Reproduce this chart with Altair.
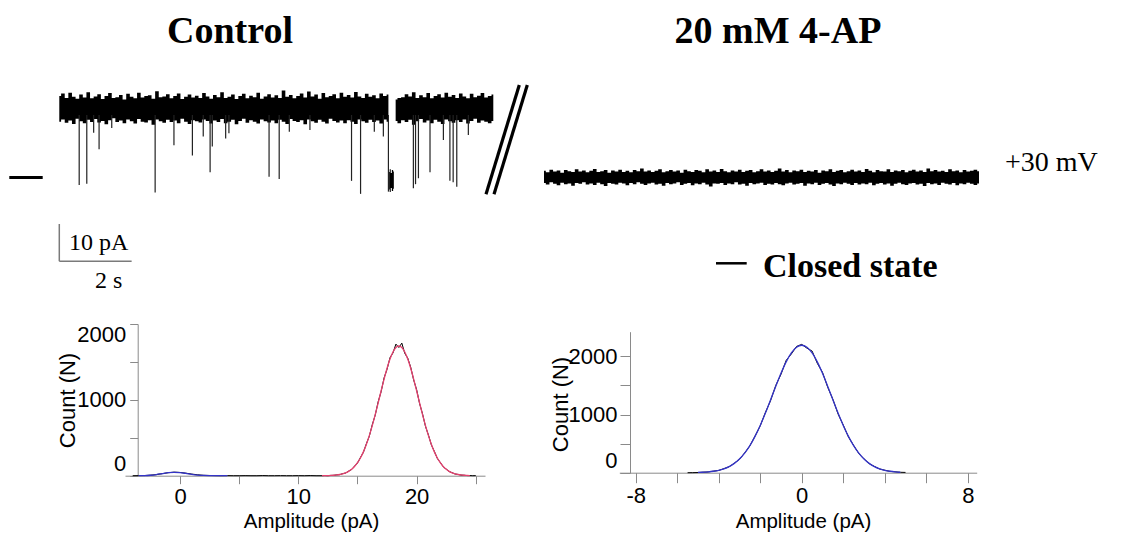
import altair as alt
import numpy as np
import pandas as pd

# ---------------- text ----------------
panel_titles = ["Control", "20 mM 4-AP"]
voltage_label = ["+30 mV"]
closed_label = ["Closed state"]
scale_labels = ["10 pA", "2 s"]
hist_x_title = "Amplitude (pA)"
hist_y_title = "Count (N)"

# ---------------- single-channel traces (pA), envelope every 0.1 s ----------------
TRACE_S = 12.0
ctrl_top = [21.9,22.6,21.4,22.8,21.7,21.2,22.3,21.5,22.9,21.3,
            21.8,22.4,21.1,21.9,22.7,21.4,21.6,22.2,21.0,22.5,
            21.7,21.3,22.8,21.5,21.9,22.1,21.2,23.2,21.6,21.8,
            22.4,21.3,21.9,22.6,21.1,21.7,22.3,21.5,22.0,21.4,
            22.7,21.8,21.2,22.2,21.6,22.9,21.4,21.7,22.3,21.1,
            21.9,22.5,21.3,22.0,21.6,22.8,21.2,21.8,22.4,21.5,
            22.1,21.4,23.4,21.7,22.2,21.3,21.9,22.6,21.5,23.1,
            21.8,22.3,21.2,22.7,21.6,21.9,22.4,21.3,22.8,21.7,
            22.2,21.5,23.0,21.8,21.4,22.5,21.7,22.1,21.3,22.6,
            21.9,22.3,21.5,21.0,21.4,21.6,22.4,21.8,22.9,21.4,
            22.1,21.6,22.7,21.3,21.9,22.4,21.5,22.8,21.7,22.2,
            21.4,22.6,21.8,21.3,22.5,21.6,22.0,22.7,21.5,21.9,
            22.3]
ctrl_bot = [15.0,15.6,14.7,15.3,14.4,15.8,15.1,14.6,15.5,14.9,
            15.7,14.8,15.2,14.3,15.4,15.9,14.9,15.3,14.6,15.6,
            15.1,14.5,15.7,15.0,14.8,15.4,14.2,15.6,15.1,14.7,
            15.5,14.9,15.3,14.6,15.8,15.0,14.4,15.4,15.1,14.8,
            15.6,15.2,14.5,15.3,14.9,15.7,14.6,15.0,15.5,14.3,
            15.2,15.8,14.7,15.4,15.0,14.5,15.6,15.1,14.8,15.3,
            14.6,15.5,15.0,14.4,15.7,15.2,14.9,15.4,14.3,15.6,
            15.1,14.7,15.5,15.0,14.5,15.8,15.2,14.8,15.3,14.6,
            15.4,15.0,14.4,15.6,15.1,14.7,15.5,14.9,15.3,14.5,
            15.6,15.0,14.8,15.2,14.6,15.4,14.9,15.5,14.2,15.1,
            15.7,14.8,15.3,14.6,15.5,15.0,14.4,15.6,15.1,14.7,
            15.4,14.9,15.6,14.5,15.2,15.8,14.7,15.3,15.0,14.6,
            15.2]
# brief closures (s, lowest current reached in pA)
spike_t = [0.55, 0.76, 0.95, 1.10, 1.45, 2.65, 3.17, 3.68, 3.98, 4.17, 4.23, 4.60,
           4.69, 5.80, 6.08, 6.36, 6.93, 8.08, 8.33, 8.71, 8.96, 9.10, 9.79, 9.85,
           9.93, 10.25, 10.62, 10.80, 10.89, 10.99, 11.31]
spike_depth = [-2.0, -1.7, 12.0, 7.6, 13.3, -4.0, 8.7, 5.9, 11.0, 1.4, 8.3, 10.5,
               11.9, 0.2, -0.4, 12.3, 12.8, -0.9, -4.4, 12.3, 11.0, -3.8, -2.9, -1.8,
               -0.2, 1.4, 10.1, -0.9, -1.3, -2.5, 11.4]
# longer closed dwell
dwell_t = [9.12, 9.15, 9.18, 9.21, 9.25]
dwell_top = [1.5, 2.2, 1.2, 2.0, 1.6]
dwell_bot = [-3.2, -3.9, -2.8, -3.6, -3.0]
closed_level = [0.0]

ap_top = [1.8,1.4,2.1,1.6,1.9,1.3,2.0,1.7,1.5,2.2,
          1.6,1.9,1.4,1.8,2.3,1.5,1.7,2.0,1.3,1.9,
          1.6,2.1,1.5,1.8,1.4,2.0,1.7,2.4,1.6,1.9,
          1.5,1.8,2.2,1.4,1.7,2.0,1.6,1.9,1.3,2.1,
          1.7,1.5,2.0,1.8,1.4,2.2,1.6,1.9,1.5,2.3,
          1.7,1.4,1.9,1.6,2.1,1.5,1.8,2.0,1.4,1.7,
          2.2,1.6,1.9,1.5,1.8,2.4,1.6,2.0,1.4,1.9,
          1.7,2.1,1.5,1.8,1.6,2.0,1.3,1.9,1.7,2.2,
          1.5,1.8,2.0,1.4,1.7,2.1,1.6,1.9,1.5,2.3,
          1.8,1.4,2.0,1.7,1.6,2.2,1.5,1.9,1.7,2.0,
          1.4,1.8,2.1,1.6,1.9,1.5,2.4,1.7,2.0,1.6,
          1.8,1.5,2.2,1.7,1.9,1.4,2.0,1.6,1.8,2.1,
          1.7]
ap_bot = [-1.5,-1.9,-1.3,-1.7,-2.1,-1.4,-1.8,-1.6,-2.2,-1.5,
          -1.7,-1.3,-1.9,-1.6,-2.0,-1.4,-1.8,-2.3,-1.5,-1.7,
          -1.9,-1.4,-1.6,-2.1,-1.5,-1.8,-1.3,-1.7,-2.0,-1.6,
          -1.4,-1.9,-1.7,-2.2,-1.5,-1.8,-1.6,-1.3,-2.0,-1.7,
          -1.5,-2.1,-1.6,-1.8,-1.4,-1.9,-2.4,-1.6,-1.7,-1.5,
          -2.0,-1.6,-1.8,-1.3,-1.9,-1.7,-2.2,-1.5,-1.8,-1.6,
          -1.4,-2.0,-1.7,-1.9,-1.5,-1.8,-2.1,-1.6,-1.4,-1.9,
          -1.7,-1.5,-2.2,-1.6,-1.8,-1.4,-2.0,-1.7,-1.5,-1.9,
          -2.3,-1.6,-1.8,-1.4,-1.7,-2.0,-1.5,-1.9,-1.6,-1.8,
          -1.4,-2.1,-1.7,-1.5,-1.9,-1.6,-2.2,-1.7,-1.4,-1.8,
          -2.0,-1.6,-1.5,-1.9,-1.7,-2.3,-1.5,-1.8,-1.6,-2.0,
          -1.4,-1.7,-1.9,-1.5,-2.1,-1.6,-1.8,-1.4,-1.7,-2.0,
          -1.6]

# ---------------- amplitude histograms ----------------
h1_amp_lo = np.arange(-4.0, 12.0, 0.5)
h1_cnt_lo = [0,1,2,7,14,27,39,47,43,33,21,12,5,3,1,0,1,0,0,1,0,0,2,0,0,1,0,0,1,0,2,0]
h1_amp_hi = np.arange(12.0, 25.01, 0.25)
h1_cnt_hi = [0,2,0,4,5,11,14,27,35,60,80,126,166,240,308,420,520,672,798,975,
             1108,1290,1402,1556,1618,1735,1690,1748,1612,1550,1430,1262,1135,952,815,
             650,536,405,320,228,175,118,88,55,40,22,17,8,6,2,2,0,1]
h1_closed_amp = np.arange(-3.5, 4.01, 0.5)
h1_closed_fit = [0.3,1.5,6,15,28,40,45,41,30,17,8,3,1,0.3,0,0]
h1_open_amp = np.arange(12.0, 24.51, 0.25)
h1_open_fit = [1,1,2,3,6,10,16,24,38,57,84,121,171,234,314,412,528,660,806,961,
               1120,1274,1417,1538,1631,1690,1710,1690,1631,1538,1417,1274,1120,961,806,
               660,528,412,314,234,171,121,84,57,38,24,16,10,6,3,2]

h2_amp = np.arange(-5.5, 5.01, 0.25)
h2_cnt = [0,1,3,9,13,27,39,70,102,163,231,340,460,630,806,1035,1240,1500,1690,1930,
          2040,2170,2205,2140,2090,1880,1725,1470,1262,1010,820,615,470,330,238,156,108,
          64,43,23,15,7,5]
h2_fit_amp = np.arange(-5.0, 4.76, 0.25)
h2_fit = [4,8,14,25,41,67,105,160,235,336,465,624,812,1025,1254,1487,1709,1905,2058,2156,
          2190,2156,2058,1905,1709,1487,1254,1025,812,624,465,336,235,160,105,67,41,25,14,8]

# ---------------- layout ----------------
W, H = 1108, 525
SERIF = "Liberation Serif"
SANS = "Liberation Sans"
BLUE = "#3434c8"
RED = "#e5416f"
FS = 22

def sc(domain, rng):
    return alt.Scale(domain=domain, range=rng, nice=False, zero=False)

xs_ctrl = sc([0, TRACE_S], [51.3, 485.3])
xs_ap = sc([0, TRACE_S], [536, 971])
ys_tr = sc([-25, 25], [262.5, 76.5])

# control trace
ctrl = pd.DataFrame({"t": np.round(np.linspace(0, TRACE_S, len(ctrl_top)), 3),
                     "top": ctrl_top, "bot": ctrl_bot})
ctrl = ctrl[(ctrl.t < 9.15) | (ctrl.t > 9.25)].copy()
ctrl["seg"] = (ctrl.t > 9.2).astype(int)

band = alt.Chart(ctrl).mark_area(color="black", interpolate="step").encode(
    x=alt.X("t:Q", scale=xs_ctrl, axis=None),
    y=alt.Y("top:Q", scale=ys_tr, axis=None),
    y2="bot:Q", detail="seg:N")
spikes = alt.Chart(pd.DataFrame({"t": spike_t, "depth": spike_depth})).mark_rule(
    color="#222222", strokeWidth=1.2).encode(
    x=alt.X("t:Q", scale=xs_ctrl, axis=None),
    y=alt.Y("depth:Q", scale=ys_tr, axis=None),
    y2=alt.Y2Datum(16.8))
dwell = alt.Chart(pd.DataFrame({"t": dwell_t, "top": dwell_top, "bot": dwell_bot})).mark_area(
    color="black", interpolate="step").encode(
    x=alt.X("t:Q", scale=xs_ctrl, axis=None),
    y=alt.Y("top:Q", scale=ys_tr, axis=None),
    y2="bot:Q")
closed_dash = alt.Chart(pd.DataFrame({"level": closed_level})).mark_rule(
    color="black", strokeWidth=3).encode(
    x=alt.value(1.3), x2=alt.value(34.7),
    y=alt.Y("level:Q", scale=ys_tr, axis=None))
one = pd.DataFrame({"k": [0]})
bar_v = alt.Chart(one).mark_rule(color="#7a7a7a", strokeWidth=1.5).encode(
    x=alt.XDatum(0, scale=xs_ctrl, axis=None),
    y=alt.YDatum(-12.5, scale=ys_tr, axis=None), y2=alt.Y2Datum(-22.5))
bar_h = alt.Chart(one).mark_rule(color="#7a7a7a", strokeWidth=1.5).encode(
    x=alt.XDatum(0, scale=xs_ctrl, axis=None), x2=alt.X2Datum(2),
    y=alt.YDatum(-22.5, scale=ys_tr, axis=None))
group_ctrl = alt.layer(band, spikes, dwell, closed_dash, bar_v, bar_h)

# 4-AP trace
ap = pd.DataFrame({"t": np.round(np.linspace(0, TRACE_S, len(ap_top)), 3),
                   "top": ap_top, "bot": ap_bot})
group_ap = alt.Chart(ap).mark_area(color="black", interpolate="step").encode(
    x=alt.X("t:Q", scale=xs_ap, axis=None),
    y=alt.Y("top:Q", scale=ys_tr, axis=None),
    y2="bot:Q")

def hist_axes(x_lo, y_bot, x_vals, x_lab_mod, tick, titlex, titley_rel,
              ytitle_x, ytitle_y, xpad, ypad):
    ax = dict(grid=False, domainColor="#8a8a8a", tickColor="#8a8a8a", tickSize=tick,
              labelFont=SANS, labelFontSize=FS, labelColor="black",
              titleFont=SANS, titleFontWeight="normal", titleColor="black")
    xa = alt.Axis(orient="bottom", offset=y_bot - H, values=x_vals,
                  labelExpr=f"datum.value % {x_lab_mod} === 0 ? '' + datum.value : ''",
                  labelFlush=False, labelPadding=xpad, title=hist_x_title, titleFontSize=20.5,
                  titleX=titlex, titleY=titley_rel, titleBaseline="top", titleAlign="center", **ax)
    ya = alt.Axis(orient="left", offset=-x_lo, values=[0, 500, 1000, 1500, 2000], format="d",
                  labelExpr="datum.value % 1000 === 0 ? '' + datum.value : ''",
                  labelFlush=True, labelPadding=ypad, title=hist_y_title, titleFontSize=FS,
                  titleX=ytitle_x, titleY=ytitle_y, titleBaseline="middle", titleAlign="center", **ax)
    return xa, ya

# histogram 1 (control)
xs_h1 = sc([-4.65, 25.78], [117, 477])
ys_h1 = sc([0, 2000], [467.7, 316])
xa1, ya1 = hist_axes(129.7, 467.7, [0, 5, 10, 15, 20, 25], 10, 8, 303, 35.5,
                     -70.7, 392, 3, 4)
h1 = pd.DataFrame({"amp": np.concatenate([h1_amp_lo, h1_amp_hi]),
                   "count": h1_cnt_lo + h1_cnt_hi})
h1c = pd.DataFrame({"amp": h1_closed_amp, "count": h1_closed_fit})
h1o = pd.DataFrame({"amp": h1_open_amp, "count": h1_open_fit})
enc1 = dict(x=alt.X("amp:Q", scale=xs_h1, axis=xa1), y=alt.Y("count:Q", scale=ys_h1, axis=ya1))
group_h1 = alt.layer(
    alt.Chart(h1).mark_line(color="black", strokeWidth=1).encode(**enc1),
    alt.Chart(h1c).mark_line(color=BLUE, strokeWidth=1.3, interpolate="monotone").encode(**enc1),
    alt.Chart(h1o).mark_line(color=RED, strokeWidth=1.3, interpolate="monotone").encode(**enc1),
)

# histogram 2 (4-AP)
xs_h2 = sc([-8.79, 8.43], [611.3, 968.7])
ys_h2 = sc([0, 2423], [464.7, 323.7])
xa2, ya2 = hist_axes(622, 464.7, list(range(-8, 9, 2)), 8, 10, 795, 38.5,
                     -70, 396, 3, 3)
h2 = pd.DataFrame({"amp": h2_amp, "count": h2_cnt})
h2f = pd.DataFrame({"amp": h2_fit_amp, "count": h2_fit})
enc2 = dict(x=alt.X("amp:Q", scale=xs_h2, axis=xa2), y=alt.Y("count:Q", scale=ys_h2, axis=ya2))
group_h2 = alt.layer(
    alt.Chart(h2).mark_line(color="black", strokeWidth=1).encode(**enc2),
    alt.Chart(h2f).mark_line(color=BLUE, strokeWidth=1.3, interpolate="monotone").encode(**enc2),
)

# annotations
def txt(s, x, y, size, weight="normal", align="left", font=SERIF):
    return alt.Chart(pd.DataFrame({"label": [s]})).mark_text(
        align=align, baseline="alphabetic", font=font, fontSize=size,
        fontWeight=weight, color="black").encode(
        x=alt.value(x), y=alt.value(y), text="label:N")

def seg(x1, y1, x2, y2, w):
    return alt.Chart(one).mark_rule(color="black", strokeWidth=w).encode(
        x=alt.value(x1), y=alt.value(y1), x2=alt.value(x2), y2=alt.value(y2))

notes = [
    txt(panel_titles[0], 222, 35, 38, "bold", "center"),
    txt(panel_titles[1], 770, 35, 38, "bold", "center"),
    txt(voltage_label[0], 997, 163, 28),
    txt(closed_label[0], 755, 268.7, 34, "bold"),
    txt(scale_labels[0], 61, 242, 24),
    txt(scale_labels[1], 87, 280, 24),
    seg(478, 186.3, 511.3, 77, 3.2),
    seg(486, 186.3, 519.3, 77, 3.2),
    seg(708, 255.3, 738.7, 255.3, 2.5),
]

chart = alt.layer(group_ctrl, group_ap, group_h1, group_h2, *notes).resolve_scale(
    x="independent", y="independent").properties(
    width=W, height=H, padding=0, autosize=alt.AutoSizeParams(type="none"),
    background="white").configure_view(stroke=None)

chart.save("out.html", embed_options={"renderer": "svg", "actions": False})
